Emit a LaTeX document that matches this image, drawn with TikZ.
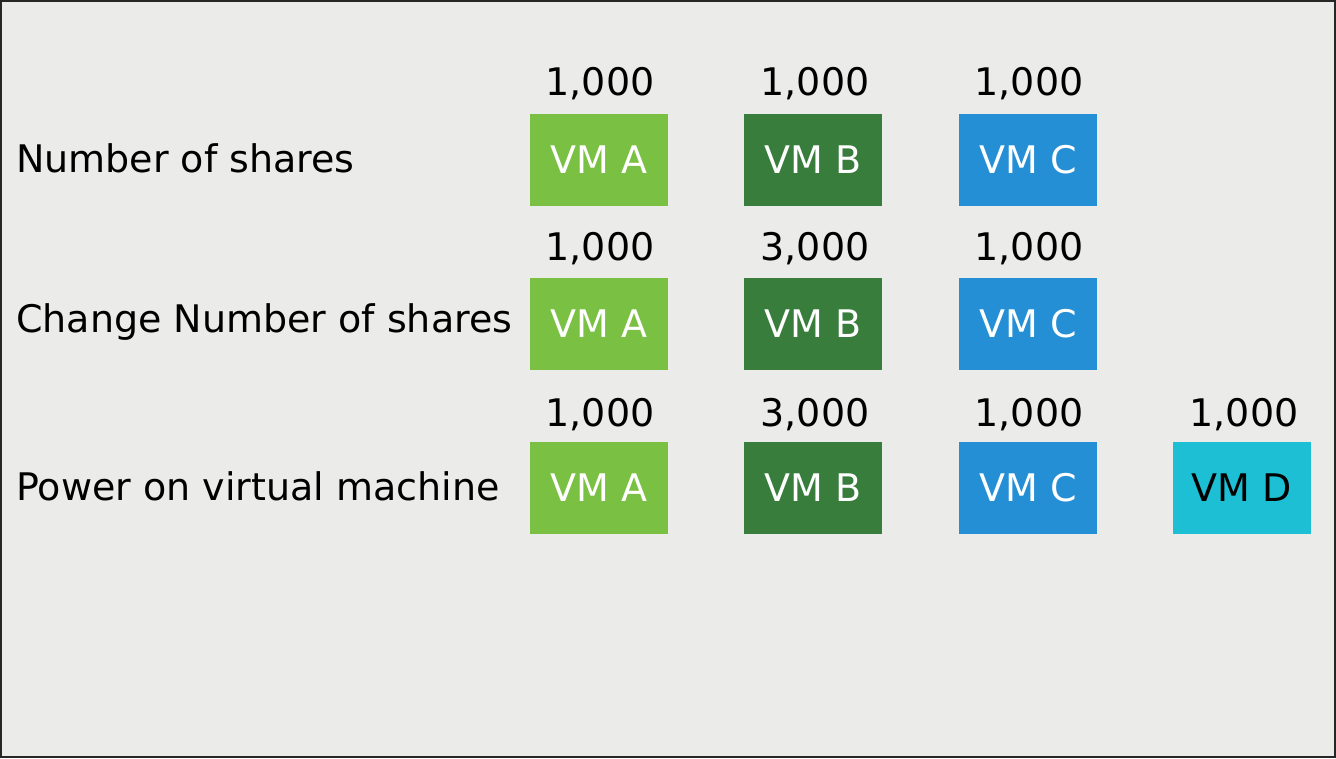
\documentclass[tikz,border=0pt]{standalone}
\usepackage{fontspec}
\setmainfont{DejaVu Sans}
\definecolor{bgpanel}{HTML}{EBEBE9}
\definecolor{vmagreen}{HTML}{7AC043}
\definecolor{vmbgreen}{HTML}{397D3C}
\definecolor{vmcblue}{HTML}{248FD5}
\definecolor{vmdcyan}{HTML}{1CBFD3}
\begin{document}
\begin{tikzpicture}[x=1pt,y=-1pt,
  vmbox/.style={minimum width=138pt,minimum height=92pt,inner sep=0pt,
    font=\fontsize{38}{38}\selectfont,text=white},
  share/.style={font=\fontsize{38}{38}\selectfont,inner sep=0pt},
  rowlabel/.style={font=\fontsize{38}{38}\selectfont,anchor=west,inner sep=0pt}]
\useasboundingbox (0,0) rectangle (1336,758);
\fill[bgpanel] (0,0) rectangle (1336,758);
\draw[line width=2pt,black!85] (1,1) rectangle (1335,757);

% row labels
\node[rowlabel] (l1) at (16,158) {Number of shares};
\node[rowlabel] (l2) at (16,322) {Change Number of shares};
\node[rowlabel] (l3) at (16,486) {Power on virtual machine};

% row 1
\node[vmbox,fill=vmagreen] (a1) at (599,160) {VM A};
\node[vmbox,fill=vmbgreen] (b1) at (813,160) {VM B};
\node[vmbox,fill=vmcblue]  (c1) at (1028,160) {VM C};
\node[share] (sa1) at (600,84) {1,000};
\node[share] (sb1) at (815,84) {1,000};
\node[share] (sc1) at (1029,84) {1,000};

% row 2
\node[vmbox,fill=vmagreen] (a2) at (599,324) {VM A};
\node[vmbox,fill=vmbgreen] (b2) at (813,324) {VM B};
\node[vmbox,fill=vmcblue]  (c2) at (1028,324) {VM C};
\node[share] (sa2) at (600,249) {1,000};
\node[share] (sb2) at (815,249) {3,000};
\node[share] (sc2) at (1029,249) {1,000};

% row 3
\node[vmbox,fill=vmagreen] (a3) at (599,488) {VM A};
\node[vmbox,fill=vmbgreen] (b3) at (813,488) {VM B};
\node[vmbox,fill=vmcblue]  (c3) at (1028,488) {VM C};
\node[vmbox,fill=vmdcyan,text=black] (d3) at (1242,488) {VM D};
\node[share] (sa3) at (600,415) {1,000};
\node[share] (sb3) at (815,415) {3,000};
\node[share] (sc3) at (1029,415) {1,000};
\node[share] (sd3) at (1244,415) {1,000};
\end{tikzpicture}
\end{document}
